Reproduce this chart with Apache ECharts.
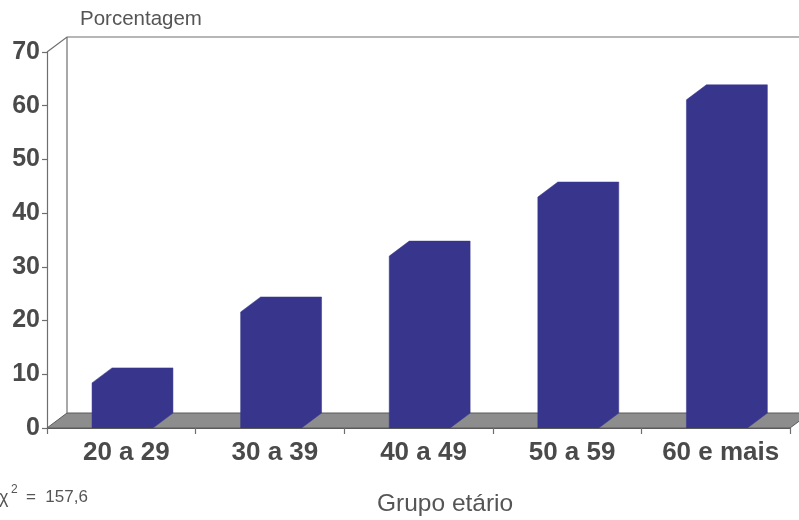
<!DOCTYPE html>
<html>
<head>
<meta charset="utf-8">
<script src="https://cdn.jsdelivr.net/npm/echarts@6/dist/echarts.min.js"></script>
<style>
  html, body { margin: 0; padding: 0; background: #ffffff; }
  #chart { width: 799px; height: 520px; }
</style>
</head>
<body>
<div id="chart"></div>
<script>
// Age groups and share (%) per group
const categories = ['20 a 29', '30 a 39', '40 a 49', '50 a 59', '60 e mais'];
const percentages = [8.4, 21.6, 32.0, 43.0, 61.1];
const yMin = 0, yMax = 70, yStep = 10;

const yAxisTitle = 'Porcentagem';
const xAxisTitle = 'Grupo etário';
const chiSquare = '157,6';

// 3D look: depth offset of the box faces
const DEPTH_X = 20;
const DEPTH_Y = 15;
const BAR_COLOR = '#37368c';
const FLOOR_COLOR = '#8d8d8d';
const LINE_COLOR = '#6e6e6e';
const TEXT_COLOR = '#4a4a4a';
const FONT = '"Liberation Sans", Arial, sans-serif';

const chart = echarts.init(document.getElementById('chart'), null, { renderer: 'canvas' });

// Floor and back wall of the 3D frame, drawn from the grid rectangle
function renderFrame(params, api) {
  const cs = params.coordSys;
  const x0 = cs.x, x1 = cs.x + cs.width;
  const yTop = cs.y, yBase = cs.y + cs.height;
  return {
    type: 'group',
    children: [
      {
        type: 'polygon',
        shape: { points: [[x0, yBase], [x1, yBase], [x1 + DEPTH_X, yBase - DEPTH_Y], [x0 + DEPTH_X, yBase - DEPTH_Y]] },
        style: { fill: FLOOR_COLOR, stroke: '#5a5a5a', lineWidth: 1 }
      },
      {
        type: 'polyline',
        shape: { points: [[x0, yTop], [x0 + DEPTH_X, yTop - DEPTH_Y], [x1 + DEPTH_X, yTop - DEPTH_Y]] },
        style: { fill: null, stroke: LINE_COLOR, lineWidth: 1.2 }
      },
      {
        type: 'line',
        shape: { x1: x0 + DEPTH_X, y1: yTop - DEPTH_Y, x2: x0 + DEPTH_X, y2: yBase - DEPTH_Y },
        style: { stroke: LINE_COLOR, lineWidth: 1.2 }
      }
    ]
  };
}

// One extruded box per category
function renderBox(params, api) {
  const idx = api.value(0);
  const val = api.value(1);
  const base = api.coord([idx, 0]);
  const top = api.coord([idx, val]);
  const catW = api.size([1, 0])[0];
  const left = base[0] - catW / 2 + catW * 0.303;
  const w = catW * 0.41;
  const yb = base[1], yt = top[1];
  return {
    type: 'polygon',
    shape: {
      points: [
        [left, yb],
        [left, yt],
        [left + DEPTH_X, yt - DEPTH_Y],
        [left + w + DEPTH_X, yt - DEPTH_Y],
        [left + w + DEPTH_X, yb - DEPTH_Y],
        [left + w, yb]
      ]
    },
    style: { fill: BAR_COLOR, stroke: BAR_COLOR, lineWidth: 0.5 }
  };
}

const option = {
  backgroundColor: '#ffffff',
  animation: false,
  grid: { left: 47, right: 9, top: 52, bottom: 92, containLabel: false },
  xAxis: {
    type: 'category',
    data: categories,
    boundaryGap: true,
    axisLine: { show: true, lineStyle: { color: '#5a5a5a', width: 1.2 } },
    axisTick: { show: true, interval: 0, length: 6, lineStyle: { color: LINE_COLOR, width: 1.2 } },
    axisLabel: {
      interval: 0,
      hideOverlap: false,
      color: TEXT_COLOR,
      fontFamily: FONT,
      fontWeight: 'bold',
      fontSize: 26,
      margin: 12,
      padding: [0, 0, 0, 10]
    },
    splitLine: { show: false },
    z: 5
  },
  yAxis: {
    type: 'value',
    min: yMin,
    max: yMax,
    interval: yStep,
    axisLine: { show: true, lineStyle: { color: LINE_COLOR, width: 1.2 } },
    axisTick: { show: true, length: 5, lineStyle: { color: LINE_COLOR, width: 1.2 } },
    axisLabel: {
      color: TEXT_COLOR,
      fontFamily: FONT,
      fontWeight: 'bold',
      fontSize: 25,
      margin: 7
    },
    splitLine: { show: false }
  },
  graphic: [
    {
      type: 'text',
      left: 80,
      top: 9,
      style: { text: yAxisTitle, font: '20.5px ' + FONT, fill: '#555555' }
    },
    {
      type: 'text',
      left: 377,
      top: 492,
      style: { text: xAxisTitle, font: '24.5px ' + FONT, fill: '#555555' }
    },
    // chi-square note: symbol, superscript, value
    {
      type: 'text',
      left: -1,
      top: 489,
      style: { text: 'χ', font: '18px ' + FONT, fill: '#555555' }
    },
    {
      type: 'text',
      left: 11,
      top: 484,
      style: { text: '2', font: '12px ' + FONT, fill: '#555555' }
    },
    {
      type: 'text',
      left: 26,
      top: 489,
      style: { text: '=  ' + chiSquare, font: '17px ' + FONT, fill: '#555555' }
    }
  ],
  series: [
    {
      type: 'custom',
      name: 'frame',
      renderItem: renderFrame,
      data: [[0, 0]],
      encode: { x: 0, y: 1 },
      silent: true,
      z: 1
    },
    {
      type: 'custom',
      name: 'Porcentagem',
      renderItem: renderBox,
      data: percentages.map((v, i) => [i, v]),
      encode: { x: 0, y: 1 },
      z: 3
    }
  ]
};

chart.setOption(option);
</script>
</body>
</html>
